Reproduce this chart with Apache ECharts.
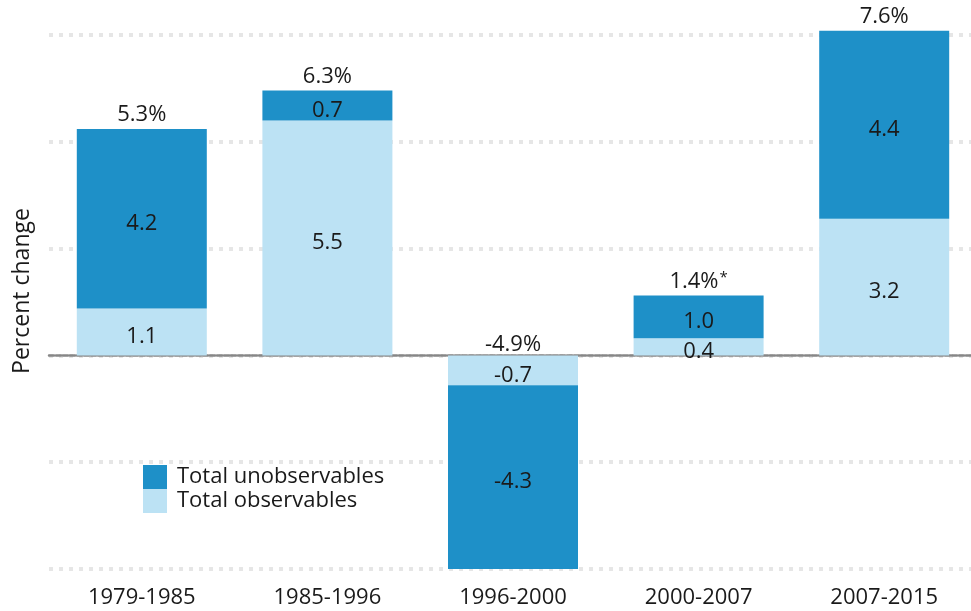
<!DOCTYPE html>
<html>
<head>
<meta charset="utf-8">
<script src="https://cdn.jsdelivr.net/npm/echarts@6/dist/echarts.min.js"></script>
<style>
  html, body { margin: 0; padding: 0; background: #ffffff; overflow: hidden; }
  /* the plot runs slightly past the right edge of the window */
  #chart { width: 980px; height: 611px; }
</style>
</head>
<body>
<div id="chart"></div>
<script>
// Decomposition of the change by period
const periods = ['1979-1985', '1985-1996', '1996-2000', '2000-2007', '2007-2015'];
const observables = [1.1, 5.5, -0.7, 0.4, 3.2];
const unobservables = [4.2, 0.7, -4.3, 1.0, 4.4];
const totalLabels = ['5.3%', '6.3%', '-4.9%', '1.4%', '7.6%'];
const totalNotes = ['', '', '', '*', ''];
const yMin = -5, yMax = 7.5, yStep = 2.5;

const FONT = 'Open Sans';
const DARK = '#1e90c8';
const LIGHT = '#bce2f4';
const INK = '#1a1a1a';

// total labels sit on the top of each stack (or on the zero line for a negative stack)
const totalPoints = periods.map((p, i) => {
  const top = Math.max(0, observables[i] + unobservables[i]);
  return {
    value: [p, top],
    label: { offset: [0, top === 0 ? 3 : 0] },
    name: totalLabels[i],
    note: totalNotes[i]
  };
});

const segLabel = {
  show: true,
  position: 'inside',
  offset: [0, 5],
  color: INK,
  fontFamily: FONT,
  fontSize: 22,
  formatter: p => p.value.toFixed(1)
};

const chart = echarts.init(document.getElementById('chart'), null, { renderer: 'canvas' });
chart.setOption({
  animation: false,
  textStyle: { fontFamily: FONT },
  grid: { left: 49, right: 3, top: 35, bottom: 42 },
  legend: {
    orient: 'vertical',
    left: 143,
    top: 465,
    padding: 0,
    itemWidth: 24,
    itemHeight: 24,
    itemGap: 0,
    icon: 'rect',
    data: ['Total unobservables', 'Total observables'],
    textStyle: { color: INK, fontFamily: FONT, fontSize: 22, padding: [3, 0, 0, 5] }
  },
  graphic: [{
    type: 'text',
    x: 22,
    y: 291,
    rotation: Math.PI / 2,
    style: {
      text: 'Percent change',
      fill: INK,
      font: '23px "' + FONT + '"',
      align: 'center',
      verticalAlign: 'middle'
    }
  }],
  xAxis: {
    type: 'category',
    data: periods,
    axisTick: { show: false },
    axisLine: { show: true, onZero: true, lineStyle: { color: '#878787', width: 2.5, type: [5, 2] } },
    axisLabel: { color: INK, fontFamily: FONT, fontSize: 22, margin: 18 },
    z: 1
  },
  yAxis: {
    type: 'value',
    min: yMin,
    max: yMax,
    interval: yStep,
    axisLabel: { show: false },
    axisLine: { show: false },
    axisTick: { show: false },
    splitLine: { show: true, lineStyle: { color: '#e6e6e6', width: 4, type: [4, 6] } }
  },
  series: [
    {
      name: 'Total observables',
      type: 'bar',
      stack: 'total',
      barWidth: 130,
      clip: false,
      itemStyle: { color: LIGHT },
      label: segLabel,
      data: observables
    },
    {
      name: 'Total unobservables',
      type: 'bar',
      stack: 'total',
      barWidth: 130,
      clip: false,
      itemStyle: { color: DARK },
      label: segLabel,
      data: unobservables
    },
    {
      name: 'totals',
      type: 'scatter',
      symbolSize: 0,
      clip: false,
      silent: true,
      itemStyle: { color: INK, opacity: 1 },
      label: {
        show: true,
        position: 'top',
        distance: 3,
        color: INK,
        opacity: 1,
        formatter: p => '{v|' + p.data.name + '}' + (p.data.note ? '{n|' + p.data.note + '}' : ''),
        rich: {
          v: { color: INK, fontFamily: FONT, fontSize: 22 },
          n: { color: INK, fontFamily: FONT, fontSize: 15, verticalAlign: 'top', padding: [0, 0, 7, 1] }
        }
      },
      data: totalPoints
    }
  ]
});
</script>
</body>
</html>
